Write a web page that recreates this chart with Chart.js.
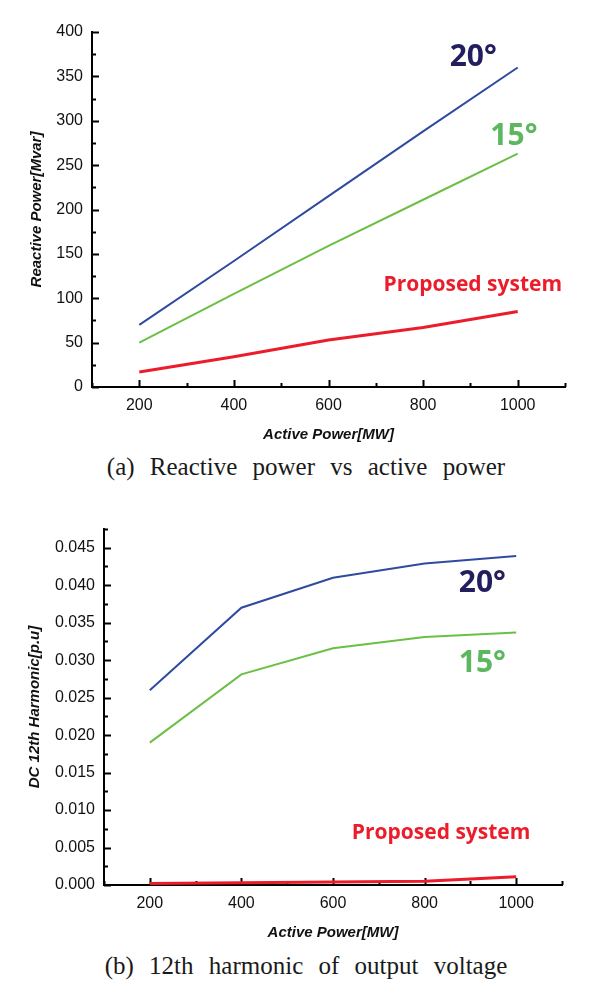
<!DOCTYPE html>
<html lang="en">
<head>
<meta charset="UTF-8">
<title>Reactive power and 12th harmonic vs active power</title>
<script src="https://cdn.jsdelivr.net/npm/chart.js"></script>
<style>
    body {
        margin: 0;
        background: #fff;
        width: 602px;
        height: 994px;
        position: relative;
        overflow: hidden;
    }
    canvas {
        position: absolute;
        left: 0;
    }
    #chartA { top: 0; }
    #chartB { top: 490px; }
    .caption {
        position: absolute;
        left: 0;
        width: 612px;
        text-align: center;
        font-family: "Liberation Serif", "DejaVu Serif", serif;
        font-size: 25px;
        word-spacing: 9px;
        color: #1a1a1a;
        line-height: 30px;
    }
    #capA { top: 452px; }
    #capB { top: 951px; }
</style>
</head>
<body>

<canvas id="chartA" width="602" height="450"></canvas>
<div class="caption" id="capA">(a) Reactive power vs active power</div>

<canvas id="chartB" width="602" height="455"></canvas>
<div class="caption" id="capB">(b) 12th harmonic of output voltage</div>

<script>
// ---- data ----
const activePower = [200, 400, 600, 800, 1000];

const reactive20 = [70, 142, 215, 288, 360];
const reactive15 = [50, 105, 159, 211, 263];
const reactiveProposed = [17, 34, 53, 67, 85];

const harmonic20 = [0.026, 0.037, 0.041, 0.0429, 0.0439];
const harmonic15 = [0.019, 0.0281, 0.0316, 0.0331, 0.0337];
const harmonicProposed = [0.0002, 0.0003, 0.0004, 0.0005, 0.0011];

const xTickValues = [200, 400, 600, 800, 1000];
const reactiveTickValues = [0, 50, 100, 150, 200, 250, 300, 350, 400];
const harmonicTickValues = [0, 0.005, 0.01, 0.015, 0.02, 0.025, 0.03, 0.035, 0.04, 0.045];

const BLUE = '#2f4b9f';
const GREEN = '#6cbf45';
const RED = '#ec1c2a';

function points(ys) {
    return activePower.map((x, i) => ({ x: x, y: ys[i] }));
}

function isMajor(v, step) {
    const r = v / step;
    return Math.abs(r - Math.round(r)) < 1e-6;
}

// inward tick marks (major + minor), like the original plot
const innerTicks = {
    id: 'innerTicks',
    beforeDatasetsDraw(chart, args, o) {
        const { ctx, chartArea: a, scales: { x, y } } = chart;
        ctx.save();
        ctx.strokeStyle = '#000';
        ctx.lineWidth = 2;
        ctx.beginPath();
        for (let i = 0; ; i++) {
            const v = o.xFrom + i * o.xStep;
            if (v > o.xTo + 1e-9) break;
            const px = Math.round(x.getPixelForValue(v)) + 0.5;
            const len = isMajor(v, o.xMajor) ? 7 : 4;
            ctx.moveTo(px, a.bottom);
            ctx.lineTo(px, a.bottom - len);
        }
        for (let i = 0; ; i++) {
            const v = o.yFrom + i * o.yStep;
            if (v > o.yTo + 1e-9) break;
            const py = Math.round(y.getPixelForValue(v)) + 0.5;
            const len = isMajor(v, o.yMajor) ? 7 : 4;
            ctx.moveTo(a.left, py);
            ctx.lineTo(a.left + len, py);
        }
        ctx.stroke();
        ctx.restore();
    }
};

// axis titles and the text labels placed next to the curves
const extraText = {
    id: 'extraText',
    afterDraw(chart, args, o) {
        const { ctx, chartArea: a, scales: { x, y } } = chart;
        ctx.save();
        ctx.fillStyle = '#111';
        ctx.font = 'italic bold 15px "Liberation Sans", Arial, sans-serif';
        ctx.textAlign = 'center';
        ctx.textBaseline = 'middle';
        ctx.fillText(o.xTitle, (a.left + a.right) / 2, o.xTitleY);
        ctx.translate(o.yTitleX, (a.top + a.bottom) / 2);
        ctx.rotate(-Math.PI / 2);
        ctx.fillText(o.yTitle, 0, 0);
        ctx.restore();

        ctx.save();
        ctx.textAlign = 'center';
        ctx.textBaseline = 'middle';
        o.notes.forEach(n => {
            ctx.fillStyle = n.color;
            ctx.font = 'bold ' + n.size + 'px "Open Sans", "Noto Sans", sans-serif';
            ctx.fillText(n.text, x.getPixelForValue(n.x), y.getPixelForValue(n.y));
        });
        ctx.restore();
    }
};

function makeChart(id, cfg) {
    const tickFont = { family: '"Liberation Sans", Arial, sans-serif', size: 16 };
    return new Chart(document.getElementById(id), {
        type: 'line',
        data: {
            datasets: [
                { label: '20°', data: points(cfg.s20), borderColor: BLUE, borderWidth: 2, pointRadius: 0, tension: 0 },
                { label: '15°', data: points(cfg.s15), borderColor: GREEN, borderWidth: 2, pointRadius: 0, tension: 0 },
                { label: 'Proposed system', data: points(cfg.sp), borderColor: RED, borderWidth: 3, pointRadius: 0, tension: 0 }
            ]
        },
        options: {
            responsive: false,
            animation: false,
            layout: { padding: cfg.padding },
            plugins: {
                legend: { display: false },
                tooltip: { enabled: false },
                innerTicks: cfg.ticks,
                extraText: cfg.text
            },
            scales: {
                x: {
                    type: 'linear',
                    min: 100,
                    max: 1100,
                    grid: { display: false, drawTicks: false },
                    border: { display: true, color: '#000', width: 2 },
                    afterBuildTicks: s => { s.ticks = xTickValues.map(v => ({ value: v })); },
                    afterFit: s => { s.height = cfg.xHeight; },
                    ticks: { color: '#111', font: tickFont, padding: 9, maxRotation: 0, callback: v => String(v) }
                },
                y: {
                    type: 'linear',
                    min: 0,
                    max: cfg.yMax,
                    grid: { display: false, drawTicks: false },
                    border: { display: true, color: '#000', width: 2 },
                    afterBuildTicks: s => { s.ticks = cfg.yTicks.map(v => ({ value: v })); },
                    afterFit: s => { s.width = cfg.yWidth; },
                    ticks: { color: '#111', font: tickFont, padding: 9, callback: cfg.yFormat }
                }
            }
        },
        plugins: [innerTicks, extraText]
    });
}

makeChart('chartA', {
    s20: reactive20, s15: reactive15, sp: reactiveProposed,
    yMax: 400,
    yTicks: reactiveTickValues,
    yFormat: v => String(v),
    padding: { top: 32, right: 37, left: 0, bottom: 0 },
    xHeight: 63,
    yWidth: 92,
    ticks: { xFrom: 100, xTo: 1100, xStep: 100, xMajor: 200, yFrom: 0, yTo: 400, yStep: 25, yMajor: 50 },
    text: {
        xTitle: 'Active Power[MW]', xTitleY: 435,
        yTitle: 'Reactive Power[Mvar]', yTitleX: 37,
        notes: [
            { text: '20°', x: 906, y: 371, color: '#231f5f', size: 30 },
            { text: '15°', x: 992, y: 282, color: '#5cb85f', size: 30 },
            { text: 'Proposed system', x: 905, y: 115, color: RED, size: 21 }
        ]
    }
});

makeChart('chartB', {
    s20: harmonic20, s15: harmonic15, sp: harmonicProposed,
    yMax: 0.0475,
    yTicks: harmonicTickValues,
    yFormat: v => v.toFixed(3),
    padding: { top: 39, right: 40, left: 0, bottom: 0 },
    xHeight: 60,
    yWidth: 104,
    ticks: { xFrom: 100, xTo: 1100, xStep: 100, xMajor: 200, yFrom: 0, yTo: 0.0475, yStep: 0.0025, yMajor: 0.005 },
    text: {
        xTitle: 'Active Power[MW]', xTitleY: 443,
        yTitle: 'DC 12th Harmonic[p.u]', yTitleX: 35,
        notes: [
            { text: '20°', x: 926, y: 0.0402, color: '#231f5f', size: 30 },
            { text: '15°', x: 926, y: 0.0296, color: '#5cb85f', size: 30 },
            { text: 'Proposed system', x: 836, y: 0.0070, color: RED, size: 21 }
        ]
    }
});
</script>

</body>
</html>
